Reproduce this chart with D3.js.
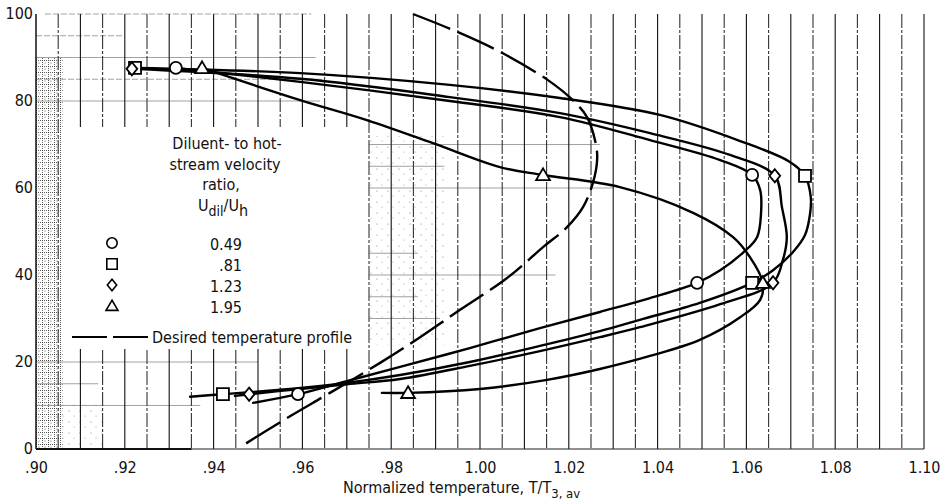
<!DOCTYPE html>
<html>
<head>
<meta charset="utf-8">
<script src="https://cdn.jsdelivr.net/npm/d3@7/dist/d3.min.js"></script>
<style>
  html, body { margin: 0; padding: 0; background: #fff; }
  svg { display: block; }
  text { font-family: "Liberation Sans Narrow", "DejaVu Sans Condensed", "Arial Narrow", sans-serif; fill: #111; }
</style>
</head>
<body>
<svg id="chart" width="944" height="503"></svg>
<script>
// ---------------- data ----------------
const xTickValues = [0.90, 0.92, 0.94, 0.96, 0.98, 1.00, 1.02, 1.04, 1.06, 1.08, 1.10];
const xTickLabels = [".90", ".92", ".94", ".96", ".98", "1.00", "1.02", "1.04", "1.06", "1.08", "1.10"];
const yTickValues = [0, 20, 40, 60, 80, 100];
const yTickLabels = ["0", "20", "40", "60", "80", "100"];

const velocityRatios = ["0.49", ".81", "1.23", "1.95"];
const symbolNames = ["circle", "square", "diamond", "triangle"];

// measured points (T/T3,av , percent span)
const circlePointsX   = [0.9315, 1.0613, 1.0489, 0.9590];
const circlePointsY   = [87.6, 63.0, 38.2, 12.6];
const squarePointsX   = [0.9223, 1.0732, 1.0613, 0.9421];
const squarePointsY   = [87.6, 62.8, 38.2, 12.6];
const diamondPointsX  = [0.9216, 1.0664, 1.0660, 0.9480];
const diamondPointsY  = [87.4, 62.8, 38.2, 12.6];
const trianglePointsX = [0.9374, 1.0142, 1.0637, 0.9838];
const trianglePointsY = [87.6, 63.0, 38.2, 12.9];

// faired curves
const circleCurveX = [0.9315, 0.9595, 0.9932, 1.0180, 1.0383, 1.0541, 1.0613, 1.0631, 1.0633, 1.0624, 1.0592, 1.0541, 1.0489, 1.0383, 1.0270, 1.0135, 0.9977, 0.9820, 0.9700, 0.9590, 0.9489];
const circleCurveY = [87.6, 84.4, 80.0, 76.3, 71.0, 66.4, 63.0, 59.5, 54.3, 48.7, 45.1, 41.1, 38.2, 34.7, 31.5, 27.8, 23.2, 18.9, 15.6, 12.6, 10.6];

const squareCurveX = [0.9223, 0.9595, 0.9932, 1.0180, 1.0405, 1.0586, 1.0698, 1.0732, 1.0745, 1.0743, 1.0732, 1.0705, 1.0660, 1.0613, 1.0495, 1.0360, 1.0270, 1.0135, 0.9977, 0.9820, 0.9700, 0.9572, 0.9421, 0.9347];
const squareCurveY = [87.6, 86.4, 83.7, 80.7, 76.8, 70.8, 66.0, 62.8, 57.9, 53.8, 49.2, 45.3, 41.1, 38.2, 33.6, 29.7, 27.1, 23.7, 20.0, 17.0, 15.2, 13.8, 12.6, 12.0];

const diamondCurveX = [0.9216, 0.9595, 0.9932, 1.0180, 1.0383, 1.0563, 1.0664, 1.0680, 1.0691, 1.0682, 1.0660, 1.0541, 1.0360, 1.0270, 1.0135, 0.9977, 0.9820, 0.9700, 0.9595, 0.9480, 0.9448];
const diamondCurveY = [87.4, 85.1, 80.9, 77.2, 72.6, 67.6, 62.8, 55.6, 48.7, 43.4, 38.2, 33.3, 28.0, 25.7, 22.5, 19.1, 16.1, 14.9, 13.8, 12.6, 12.2];

const triangleCurveX = [0.9374, 0.9595, 0.9745, 0.9894, 1.0045, 1.0142, 1.0315, 1.0480, 1.0570, 1.0608, 1.0637, 1.0631, 1.0586, 1.0495, 1.0383, 1.0270, 1.0151, 1.0000, 0.9838, 0.9779];
const triangleCurveY = [87.6, 80.2, 75.6, 70.3, 64.8, 63.0, 60.2, 54.3, 48.7, 44.1, 38.2, 34.3, 30.3, 25.1, 21.4, 18.4, 15.9, 13.8, 12.9, 12.9];

// desired temperature profile
const desiredX = [0.9849, 0.9944, 1.0045, 1.0153, 1.0209, 1.0241, 1.0259, 1.0264, 1.0255, 1.0232, 1.0196, 1.0142, 1.0061, 0.9955, 0.9865, 0.9775, 0.9662, 0.9565, 0.9464];
const desiredY = [100, 96.1, 91.3, 84.8, 80.2, 76.3, 71.0, 66.9, 61.4, 55.6, 51.0, 46.4, 39.3, 32.0, 25.7, 19.8, 12.9, 7.1, 0.7];

// ---------------- layout ----------------
const FONT = '"Liberation Sans Narrow", "DejaVu Sans Condensed", sans-serif';
const svg = d3.select("#chart");
const x = d3.scaleLinear().domain([0.90, 1.10]).range([36, 924]);
const y = d3.scaleLinear().domain([0, 100]).range([449, 14]);

const zip = (xs, ys) => xs.map((v, i) => [v, ys[i]]);

// paper stipple patterns
const defs = svg.append("defs");
const pat = defs.append("pattern").attr("id", "stip").attr("width", 6).attr("height", 6).attr("patternUnits", "userSpaceOnUse");
pat.append("path").attr("d", "M0,0.5H6 M0.5,0V6").attr("stroke", "#333").attr("stroke-width", 0.8).attr("stroke-dasharray", "1,1");
pat.append("circle").attr("cx", 3).attr("cy", 3).attr("r", 0.6).attr("fill", "#555");
const pat2 = defs.append("pattern").attr("id", "stip2").attr("width", 11).attr("height", 11).attr("patternUnits", "userSpaceOnUse");
pat2.append("circle").attr("cx", 3).attr("cy", 4).attr("r", 0.6).attr("fill", "#777");
pat2.append("circle").attr("cx", 8).attr("cy", 9).attr("r", 0.5).attr("fill", "#888");

svg.append("rect").attr("x", x(0.90)).attr("y", y(90)).attr("width", x(0.906) - x(0.90)).attr("height", y(0) - y(90)).attr("fill", "url(#stip)");
svg.append("rect").attr("x", x(0.906)).attr("y", y(11)).attr("width", x(0.915) - x(0.906)).attr("height", y(0) - y(11)).attr("fill", "url(#stip2)");
svg.append("rect").attr("x", x(0.975)).attr("y", y(72)).attr("width", x(0.992) - x(0.975)).attr("height", y(24) - y(72)).attr("fill", "url(#stip2)");

// faint horizontal grid fragments
const hSegY  = [100, 95, 90, 85, 80, 70, 65, 60, 45, 40, 35, 30, 20, 15, 10];
const hSegX0 = [0.902, 0.90, 0.90, 0.90, 0.90, 0.975, 0.975, 0.975, 0.975, 0.975, 0.975, 0.975, 0.90, 0.90, 0.90];
const hSegX1 = [0.962, 0.92, 0.963, 0.965, 0.964, 1.027, 0.992, 1.030, 0.986, 1.017, 0.986, 0.991, 0.950, 0.914, 0.937];
svg.append("g").selectAll("line").data(hSegY).join("line")
  .attr("x1", (d, i) => x(hSegX0[i])).attr("x2", (d, i) => x(hSegX1[i]))
  .attr("y1", d => y(d)).attr("y2", d => y(d))
  .attr("stroke", "#8a8a8a").attr("stroke-width", 0.8)
  .attr("stroke-dasharray", (d, i) => (d === 100 || d === 85 || d === 95) ? "6,2" : null);

// vertical grid (every 0.005)
const vGrid = d3.range(0, 40).map(i => 0.905 + i * 0.005);
svg.append("g").selectAll("line").data(vGrid).join("line")
  .attr("x1", d => x(d)).attr("x2", d => x(d))
  .attr("y1", y(100)).attr("y2", y(0))
  .attr("stroke", (d, i) => i % 2 === 1 ? "#111" : "#333")
  .attr("stroke-width", 1.1)
  .attr("stroke-dasharray", (d, i) => i % 2 === 1 ? null : "14,2,3,2");

// axes lines
svg.append("line").attr("x1", x(0.90)).attr("x2", x(0.90)).attr("y1", y(100)).attr("y2", y(0)).attr("stroke", "#111").attr("stroke-width", 1.5);
svg.append("line").attr("x1", x(0.90)).attr("x2", x(1.10)).attr("y1", y(0)).attr("y2", y(0)).attr("stroke", "#222").attr("stroke-width", 1.2);
svg.append("line").attr("x1", x(0.90)).attr("x2", x(0.935)).attr("y1", y(0)).attr("y2", y(0)).attr("stroke", "#111").attr("stroke-width", 2);

// legend white area (masks grid)
svg.append("rect").attr("x", 62).attr("y", 127).attr("width", 305).attr("height", 222).attr("fill", "#fff");

// axes labels
const xAxis = d3.axisBottom(x).tickValues(xTickValues).tickSize(0).tickPadding(0)
  .tickFormat((d, i) => xTickLabels[i]);
const gx = svg.append("g").attr("transform", `translate(0,${y(0)})`).call(xAxis);
gx.select(".domain").remove();
gx.selectAll("text").attr("y", 24).attr("dy", null).attr("font-size", 16).attr("fill", "#111")
  .style("font-family", FONT);

const yAxis = d3.axisLeft(y).tickValues(yTickValues).tickSize(0).tickPadding(3)
  .tickFormat((d, i) => yTickLabels[i]);
const gy = svg.append("g").attr("transform", `translate(${x(0.90)},0)`).call(yAxis);
gy.select(".domain").remove();
gy.selectAll("text").attr("font-size", 16).attr("fill", "#111").attr("dy", "0.3em")
  .style("font-family", FONT);

// x title
const xt = svg.append("text").attr("x", 343).attr("y", 493).attr("font-size", 16);
xt.append("tspan").text("Normalized temperature,  T/T");
xt.append("tspan").attr("dy", 5).attr("font-size", 13).text("3, av");

// ---------------- curves ----------------
const line = d3.line().x(d => x(d[0])).y(d => y(d[1])).curve(d3.curveCatmullRom.alpha(0.5));
const curves = [
  zip(circleCurveX, circleCurveY),
  zip(squareCurveX, squareCurveY),
  zip(diamondCurveX, diamondCurveY),
  zip(triangleCurveX, triangleCurveY)
];
svg.append("g").selectAll("path").data(curves).join("path")
  .attr("d", line).attr("fill", "none").attr("stroke", "#000").attr("stroke-width", 2.4)
  .attr("stroke-linejoin", "round").attr("stroke-linecap", "round");

svg.append("path").datum(zip(desiredX, desiredY))
  .attr("d", line).attr("fill", "none").attr("stroke", "#000").attr("stroke-width", 2.4)
  .attr("stroke-dasharray", "40,8");

// ---------------- markers ----------------
function shapePath(name, s) {
  if (name === "circle") return `M${-s},0A${s},${s} 0 1,0 ${s},0A${s},${s} 0 1,0 ${-s},0Z`;
  if (name === "square") return `M${-s},${-s}H${s}V${s}H${-s}Z`;
  if (name === "diamond") return `M0,${-s * 1.1}L${s * 0.9},0L0,${s * 1.1}L${-s * 0.9},0Z`;
  return `M0,${-s * 1.1}L${s * 1.15},${s * 0.85}L${-s * 1.15},${s * 0.85}Z`;
}
const markerSets = [
  zip(circlePointsX, circlePointsY),
  zip(squarePointsX, squarePointsY),
  zip(diamondPointsX, diamondPointsY),
  zip(trianglePointsX, trianglePointsY)
];
markerSets.forEach((pts, k) => {
  svg.append("g").selectAll("path").data(pts).join("path")
    .attr("transform", d => `translate(${x(d[0])},${y(d[1])})`)
    .attr("d", shapePath(symbolNames[k], 6))
    .attr("fill", "#fff").attr("stroke", "#000").attr("stroke-width", 1.8);
});

// ---------------- legend ----------------
const lg = svg.append("g");
const titleLines = ["Diluent- to hot-", "stream velocity", "ratio,"];
const titleCx = [227, 225, 221];
titleLines.forEach((t, i) => {
  lg.append("text").attr("x", titleCx[i]).attr("y", 149 + i * 20.5).attr("text-anchor", "middle").attr("font-size", 16).text(t);
});
const ut = lg.append("text").attr("x", 198).attr("y", 211).attr("font-size", 16);
ut.append("tspan").text("U");
ut.append("tspan").attr("dy", 5).attr("font-size", 14).text("dil");
ut.append("tspan").attr("dy", -5).attr("font-size", 16).text("/U");
ut.append("tspan").attr("dy", 5).attr("font-size", 16).text("h");

velocityRatios.forEach((v, i) => {
  const cy = 243 + i * 21;
  lg.append("path").attr("transform", `translate(112,${cy})`).attr("d", shapePath(symbolNames[i], 5.2))
    .attr("fill", "#fff").attr("stroke", "#000").attr("stroke-width", 1.6);
  lg.append("text").attr("x", 242).attr("y", cy + 7).attr("text-anchor", "end").attr("font-size", 16).text(v);
});
lg.append("line").attr("x1", 72).attr("x2", 148).attr("y1", 337).attr("y2", 337)
  .attr("stroke", "#000").attr("stroke-width", 2.2).attr("stroke-dasharray", "35,6");
lg.append("text").attr("x", 152).attr("y", 343).attr("font-size", 16).text("Desired temperature profile");
</script>
</body>
</html>
